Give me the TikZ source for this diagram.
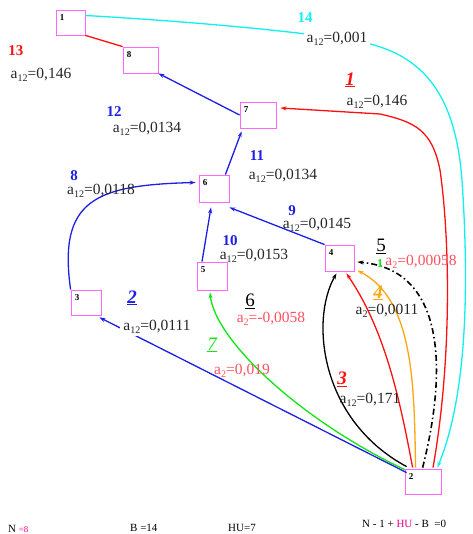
\documentclass[tikz,border=0pt]{standalone}
\usepackage{fontspec}
\setmainfont{Liberation Serif}
\usepackage{xcolor}
\usepackage{graphicx}
\usepackage{tikz}
\usetikzlibrary{arrows.meta}

\definecolor{boxpink}{HTML}{FF66FF}
\definecolor{eblue}{HTML}{1E1EE6}
\definecolor{ered}{HTML}{FF1010}
\definecolor{wred}{HTML}{FF5060}
\definecolor{egreen}{HTML}{10E610}
\definecolor{eorange}{HTML}{FFA510}
\definecolor{ecyan}{HTML}{10F0F0}

\newcommand{\sbs}[1]{\raisebox{-0.3ex}{\scalebox{0.65}{#1}}}
\newcommand{\fs}[1]{\fontsize{#1}{#1}\selectfont}

\begin{document}
\begin{tikzpicture}[x=1pt,y=-1pt,
    vert/.style={draw=boxpink,thick,minimum width=30pt,minimum height=26pt,inner sep=0pt},
    vnum/.style={font=\fs{9}\bfseries,anchor=north west,inner sep=0pt,shift={(4,5)}},
    edge/.style={line width=1.3pt,-{Stealth[length=6pt,width=4pt]}},
    wt/.style={font=\fs{15.5},text=black!85,inner sep=1pt},
    cover/.style={fill=white,inner sep=3pt},
    bnum/.style={font=\fs{15}\bfseries,inner sep=1pt},
    inum/.style={font=\fs{19}\itshape,inner sep=1pt},
    unum/.style={font=\fs{19},inner sep=1pt}]
    \useasboundingbox (0,0) rectangle (472,534);

    % Vertices
    \node[vert,minimum width=29pt,minimum height=25pt,label={[vnum]north west:1}] (n1) at (70.5,22.5) {};
    \node[vert,minimum width=35pt,label={[vnum]north west:8}] (n8) at (140.5,60) {};
    \node[vert,minimum width=36pt,label={[vnum]north west:7}] (n7) at (258,115) {};
    \node[vert,minimum height=27pt,label={[vnum]north west:6}] (n6) at (214,188.5) {};
    \node[vert,minimum height=28pt,label={[vnum]north west:5}] (n5) at (212,276) {};
    \node[vert,minimum width=29pt,label={[vnum]north west:4}] (n4) at (339.5,258) {};
    \node[vert,minimum height=25pt,label={[vnum]north west:3}] (n3) at (86,302.5) {};
    \node[vert,minimum width=36pt,minimum height=25pt,label={[vnum]north west:2}] (n2) at (423,481.5) {};

    % Tree edges
    \draw[ered,line width=1.3pt] (n8.north west) -- (n1.south east);
    \draw[edge,eblue] (n7.west) -- (n8.south east);
    \draw[edge,eblue] ([shift={(-4,0)}]n6.north east) -- ([shift={(2,3)}]n7.south west);
    \draw[edge,eblue] (n3.north west) .. controls (58,200) and (95,185) .. ([shift={(-3,-6)}]n6.west);
    \draw[edge,eblue] (n4.north west) -- ([shift={(0,5)}]n6.south east);
    \draw[edge,eblue] ([shift={(-10,0)}]n5.north) -- ([shift={(-3,5)}]n6.south);
    \draw[edge,eblue] ([shift={(2,4)}]n2.north west) -- ([shift={(-2,2)}]n3.south east);

    % Chords out of vertex 2
    \draw[edge,egreen] ([shift={(0,1)}]n2.north west) .. controls (300,420) and (215,340) .. ([shift={(-2,2)}]n5.south);
    \draw[edge,black] ([shift={(2,-2)}]n2.north west) .. controls (320,420) and (310,320) .. ([shift={(-3,2)}]n4.south);
    \draw[edge,ered] ([shift={(8,-1)}]n2.north west) .. controls (400,400) and (385,330) .. ([shift={(-8,2)}]n4.south east);
    \draw[edge,eorange] ([shift={(11,-1)}]n2.north west) .. controls (414,390) and (415,300) .. ([shift={(3,-1)}]n4.south east);
    \draw[edge,black,line width=1.6pt,dash pattern=on 6pt off 3pt on 1.5pt off 3pt] ([shift={(18,-1)}]n2.north west) .. controls (445,380) and (450,270) .. ([shift={(3,4)}]n4.east);
    \draw[edge,ered] ([shift={(10,-1)}]n2.north) .. controls (452,360) and (450,240) .. (440,170) .. controls (432,130) and (415,122) .. (380,114) -- ([shift={(4,-7)}]n7.east);
    \draw[edge,ecyan] ([shift={(0,-7)}]n1.east) .. controls (200,22) and (300,32) .. (350,40) .. controls (420,50) and (455,90) .. (462,180) .. controls (470,300) and (465,400) .. ([shift={(-4,-1)}]n2.north east);

    % Edge labels
    \node[bnum,ered] (k13) at (16,51) {13};
    \node[wt] (w13) at (41,75) {a\sbs{12}=0,146};
    \node[bnum,eblue] (k12) at (114,112) {12};
    \node[wt] (w12) at (147,129) {a\sbs{12}=0,0134};
    \node[bnum,eblue] (k11) at (257,156) {11};
    \node[wt] (w11) at (283,176) {a\sbs{12}=0,0134};
    \node[bnum,eblue] (k8) at (74,176) {8};
    \node[wt] (w8) at (101,191) {a\sbs{12}=0,0118};
    \node[bnum,eblue] (k9) at (292,211) {9};
    \node[wt] (w9) at (317,225) {a\sbs{12}=0,0145};
    \node[bnum,eblue] (k10) at (230,241) {10};
    \node[wt] (w10) at (254,256) {a\sbs{12}=0,0153};
    \node[inum,eblue] (k2) at (132,298) {\underline{\textbf{2}}};
    \node[wt,cover] (w2) at (157,327) {a\sbs{12}=0,0111};
    \node[unum] (k6) at (250,301) {\underline{6}};
    \node[wt,text=wred] (w6) at (271,319) {a\sbs{2}=-0,0058};
    \node[inum,egreen] (k7) at (212,345) {\underline{7}};
    \node[wt,text=wred] (w7) at (242,371) {a\sbs{2}=0,019};
    \node[inum,ered] (k3) at (342,379) {\underline{\textbf{3}}};
    \node[wt] (w3) at (370,400) {a\sbs{12}=0,171};
    \node[inum,eorange] (k4) at (378,293) {\underline{\textbf{4}}};
    \node[wt] (w4) at (387,311) {a\sbs{2}=0,0011};
    \node[unum] (k5) at (381,246) {\underline{5}};
    \node[font=\fs{12}\bfseries,egreen,inner sep=0pt] (g5) at (380,264) {1};
    \node[wt,text=wred] (w5) at (421,262) {a\sbs{2}=0,00058};
    \node[wt,cover] (w1) at (377,102) {a\sbs{12}=0,146};
    \node[inum,ered] (k1) at (350,80) {\underline{\textbf{1}}};
    \node[wt,cover] (w14) at (337,39) {a\sbs{12}=0,001};
    \node[bnum,ecyan] (k14) at (305,18) {14};

    % Counts
    \node[font=\fs{11},anchor=west,inner sep=0pt] (cn) at (8,529) {N \textcolor{magenta}{\fs{9}=8}};
    \node[font=\fs{11},anchor=west,inner sep=0pt] (cb) at (130,528) {B =14};
    \node[font=\fs{11},anchor=west,inner sep=0pt] (chu) at (228,528) {HU=7};
    \node[font=\fs{11},anchor=west,inner sep=0pt] (ceq) at (362,524) {N - 1 + \textcolor{magenta}{HU} - B \ =0};
\end{tikzpicture}
\end{document}
